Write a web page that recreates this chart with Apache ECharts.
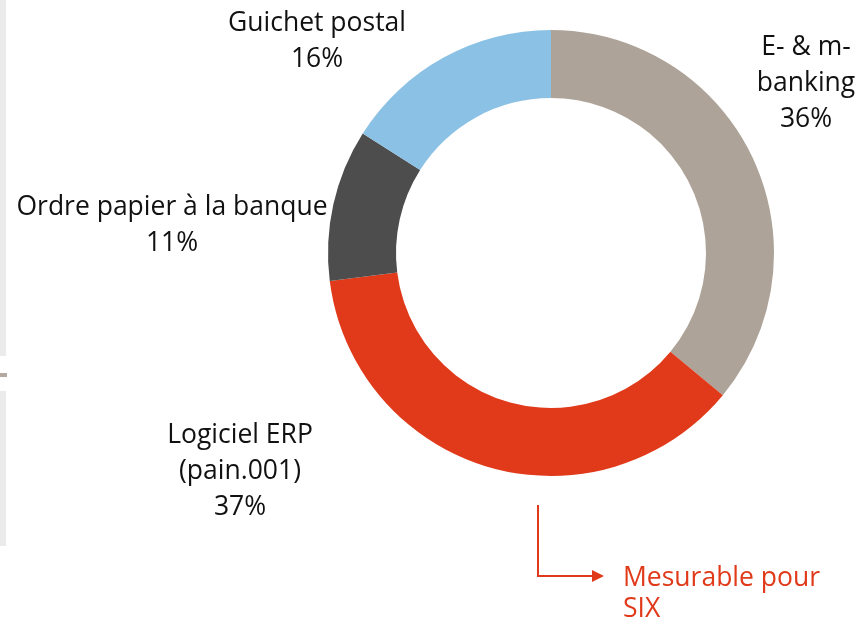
<!DOCTYPE html>
<html><head><meta charset="utf-8">
<script src="https://cdn.jsdelivr.net/npm/echarts@6/dist/echarts.min.js"></script>
<style>html,body{margin:0;padding:0;background:#fff}#c{width:859px;height:620px}</style>
</head><body><div id="c"></div>
<script>
const categories = ['E- & m-\nbanking', 'Logiciel ERP\n(pain.001)', 'Ordre papier à la banque', 'Guichet postal'];
const values = [36, 37, 11, 16];
const colors = ['#ada398', '#e03a1a', '#4d4d4d', '#8bc1e4'];
const labelCenters = [[806, 83], [240, 471], [172, 225], [317, 41]];
const noteText = 'Mesurable pour\nSIX';

const chart = echarts.init(document.getElementById('c'), null, {renderer: 'canvas'});
const FONT = '"Open Sans", "Noto Sans", sans-serif';
chart.setOption({
  animation: false,
  backgroundColor: '#ffffff',
  series: [{
    type: 'pie',
    center: [551, 253],
    radius: [155, 223],
    startAngle: 90,
    clockwise: true,
    silent: true,
    data: categories.map((n, i) => ({name: n, value: values[i], itemStyle: {color: colors[i]}})),
    label: {
      show: true,
      position: 'outside',
      formatter: p => p.name + '\n' + p.value + '%',
      fontFamily: FONT,
      fontSize: 26.5,
      lineHeight: 36,
      color: '#111111',
      align: 'center',
      overflow: 'none',
      width: 400
    },
    labelLine: {show: false},
    labelLayout: p => ({
      x: labelCenters[p.dataIndex][0],
      y: labelCenters[p.dataIndex][1],
      align: 'center',
      verticalAlign: 'middle'
    })
  }],
  graphic: [
    {type: 'rect', shape: {x: 0, y: 0, width: 6, height: 356}, style: {fill: '#ebebeb'}},
    {type: 'rect', shape: {x: 0, y: 373, width: 7, height: 4}, style: {fill: '#b3a99e'}},
    {type: 'rect', shape: {x: 0, y: 391, width: 6, height: 155}, style: {fill: '#ebebeb'}},
    {type: 'polyline', shape: {points: [[538, 505], [538, 576], [596, 576]]},
     style: {stroke: '#e03a1a', lineWidth: 2, fill: null}},
    {type: 'polygon', shape: {points: [[592, 570], [604, 576], [592, 582]]},
     style: {fill: '#e03a1a'}},
    {type: 'text', x: 623, y: 578,
     style: {text: noteText, font: '26.5px ' + FONT, lineHeight: 31, fill: '#e03a1a',
             textAlign: 'left', textVerticalAlign: 'top', y: -15}}
  ]
});
</script></body></html>
